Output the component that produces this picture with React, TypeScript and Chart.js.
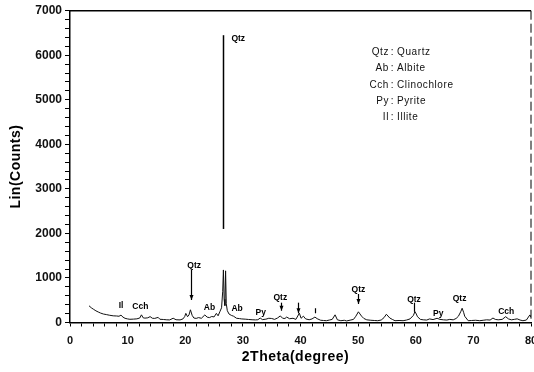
import React, { useEffect, useRef } from "react";
import { Chart, registerables } from "chart.js";

Chart.register(...registerables);

const angles = [
  3.3, 3.7, 4.1, 4.5, 4.9, 5.3, 5.8, 6.3, 6.9, 7.5, 8.1, 8.5, 8.85, 9.2, 9.55, 10.0, 10.4, 11.0, 11.6, 12.1,
  12.4, 12.7, 13.0, 13.5, 13.9, 14.3, 14.7, 15.3, 15.6, 16.2, 16.8, 17.3, 17.9, 18.4, 19.1, 19.6, 19.9, 20.1,
  20.4, 20.65, 20.9, 21.2, 21.5, 21.9, 22.3, 22.8, 23.4, 23.8, 24.2, 24.6, 25.0, 25.4, 25.7, 26.0, 26.3, 26.5,
  26.62, 26.75, 26.88, 27.0, 27.12, 27.3, 27.6, 28.0, 28.4, 28.9, 29.4, 29.8, 30.4, 31.0, 31.6, 32.2, 32.6,
  33.0, 33.4, 34.0, 34.5, 35.0, 35.5, 36.0, 36.5, 36.9, 37.3, 37.6, 38.1, 38.7, 39.2, 39.8, 40.1, 40.5, 40.9,
  41.5, 42.0, 42.5, 42.9, 43.5, 44.0, 44.5, 45.0, 45.5, 46.0, 46.4, 47.0, 47.6, 48.0, 48.6, 49.2, 49.6, 50.05,
  50.6, 51.0, 51.5, 52.2, 52.8, 53.4, 54.0, 54.5, 54.9, 55.5, 56.0, 56.4, 57.1, 57.8, 58.4, 59.0, 59.6, 59.85,
  60.1, 60.3, 60.8, 61.3, 61.9, 62.4, 63.0, 63.7, 64.2, 64.8, 65.4, 65.9, 66.5, 67.0, 67.4, 67.8, 68.05, 68.3,
  68.5, 69.1, 69.7, 70.4, 71.1, 71.7, 72.3, 72.9, 73.4, 73.8, 74.3, 75.0, 75.6, 76.1, 76.6, 77.1, 77.6, 78.1,
  78.6, 79.2, 79.8, 80.0,
];
const counts = [
  375, 330, 295, 262, 236, 212, 190, 178, 162, 150, 146, 140, 165, 120, 94, 80, 72, 76, 82, 100,
  172, 105, 98, 105, 132, 95, 92, 115, 72, 68, 60, 58, 96, 62, 58, 80, 132, 205,
  130, 170, 285, 160, 100, 92, 110, 95, 170, 120, 110, 135, 125, 205, 150, 240, 330, 700,
  1180, 520, 380, 1160, 420, 265, 190, 160, 140, 95, 88, 80, 75, 68, 62, 58, 62,
  100, 65, 75, 95, 90, 70, 100, 148, 95, 90, 122, 85, 95, 70, 210, 95, 142, 80,
  62, 80, 122, 85, 50, 45, 40, 55, 70, 172, 60, 40, 50, 35, 52, 70, 140, 240,
  142, 90, 60, 50, 45, 40, 55, 110, 185, 100, 65, 40, 45, 40, 55, 80, 160, 245,
  190, 130, 70, 60, 55, 80, 65, 95, 70, 60, 55, 70, 60, 90, 140, 240, 320, 230,
  140, 40, 45, 50, 40, 50, 60, 55, 100, 70, 60, 70, 130, 80, 60, 70, 82, 55,
  40, 55, 170, 120,
];

// axis tick labels
const xTickLabels = [0, 10, 20, 30, 40, 50, 60, 70, 80];
const yTickLabels = [0, 1000, 2000, 3000, 4000, 5000, 6000, 7000];

// phase labels on the pattern
const labelTexts = ["Qtz", "Il", "Cch", "Qtz", "Ab", "Ab", "Py", "Qtz", "Qtz", "Qtz", "Py", "Qtz", "Cch"];
const labelAngles = [29.2, 8.85, 12.2, 21.55, 24.2, 29.0, 33.1, 36.5, 50.05, 59.7, 63.9, 67.6, 75.7];
const labelCounts = [6380, 370, 360, 1275, 333, 310, 220, 557, 730, 520, 207, 527, 243];

// marker arrows
const arrowAngles = [26.62, 20.95, 36.6, 39.55, 42.55, 50.0, 59.75];
const arrowTops = [6450, 1180, 445, 445, 320, 640, 445];
const arrowBottoms = [2100, 505, 265, 207, 207, 415, 240];
const arrowHeads = [false, true, true, true, false, true, false];

// legend key
const keyCodes = ["Qtz", "Ab", "Cch", "Py", "Il"];
const keyNames = ["Quartz", "Albite", "Clinochlore", "Pyrite", "Illite"];

const FONT = '"Liberation Sans", Arial, sans-serif';

const overlay = {
  id: "overlay",
  afterDraw(chart: any) {
    const { ctx, chartArea: a, scales } = chart;
    const x = scales.x;
    const y = scales.y;
    ctx.save();
    ctx.strokeStyle = "#000";
    ctx.fillStyle = "#000";
    // top frame
    ctx.lineWidth = 1.5;
    ctx.beginPath();
    ctx.moveTo(a.left, a.top);
    ctx.lineTo(a.right, a.top);
    ctx.stroke();
    // right frame (dashed)
    ctx.lineWidth = 1;
    ctx.setLineDash([9, 4]);
    ctx.beginPath();
    ctx.moveTo(a.right, a.top);
    ctx.lineTo(a.right, a.bottom);
    ctx.stroke();
    ctx.setLineDash([]);

    // arrows
    arrowAngles.forEach((g, i) => {
      const px = Math.round(x.getPixelForValue(g)) + 0.5;
      const t = y.getPixelForValue(arrowTops[i]);
      const b = y.getPixelForValue(arrowBottoms[i]);
      ctx.lineWidth = i === 0 ? 1.5 : 1.2;
      ctx.beginPath();
      ctx.moveTo(px, t);
      ctx.lineTo(px, b);
      ctx.stroke();
      if (arrowHeads[i]) {
        ctx.beginPath();
        ctx.moveTo(px - 2, b - 5);
        ctx.lineTo(px, b);
        ctx.lineTo(px + 2, b - 5);
        ctx.closePath();
        ctx.fill();
      }
    });

    // labels
    ctx.font = `bold 8.5px ${FONT}`;
    ctx.textAlign = "center";
    ctx.textBaseline = "middle";
    labelTexts.forEach((s, i) => {
      ctx.fillText(s, x.getPixelForValue(labelAngles[i]), y.getPixelForValue(labelCounts[i]));
    });

    // key
    ctx.font = `10px ${FONT}`;
    (ctx as any).letterSpacing = "0.6px";
    ctx.fillStyle = "#111";
    const colonX = 392;
    keyCodes.forEach((c, i) => {
      const ly = 52 + i * 16.4;
      ctx.textAlign = "right";
      ctx.fillText(c, colonX - 3, ly);
      ctx.textAlign = "center";
      ctx.fillText(":", colonX + 0.5, ly);
      ctx.textAlign = "left";
      ctx.fillText(keyNames[i], colonX + 5, ly);
    });

    // axis titles
    ctx.fillStyle = "#000";
    ctx.font = `bold 14px ${FONT}`;
    (ctx as any).letterSpacing = "0.5px";
    ctx.textAlign = "center";
    ctx.textBaseline = "middle";
    ctx.fillText("2Theta(degree)", (a.left + a.right) / 2 - 5, 357);
    ctx.translate(16, (a.top + a.bottom) / 2);
    ctx.rotate(-Math.PI / 2);
    ctx.fillText("Lin(Counts)", 0, 0);
    ctx.restore();
  },
};

export default function App() {
  const ref = useRef<HTMLCanvasElement | null>(null);
  useEffect(() => {
    if (!ref.current) return;
    const points = angles.map((g, i) => ({ x: g, y: counts[i] }));
    const chart = new Chart(ref.current, {
      type: "line",
      data: {
        datasets: [
          {
            data: points,
            borderColor: "#111",
            borderWidth: 1,
            pointRadius: 0,
            tension: 0,
            fill: false,
          },
        ],
      },
      options: {
        responsive: false,
        animation: false,
        layout: { padding: { top: 10.7, right: 3, left: 0, bottom: 0 } },
        plugins: { legend: { display: false }, tooltip: { enabled: false } },
        scales: {
          x: {
            type: "linear",
            min: 0,
            max: 80,
            afterFit: (s: any) => {
              s.height = 49.5;
              s.paddingLeft = 0;
              s.paddingRight = 0;
            },
            ticks: {
              stepSize: 2,
              autoSkip: false,
              maxRotation: 0,
              padding: 8,
              color: "#111",
              font: { family: FONT, size: 11, weight: "bold" },
              callback: (v: any) => (xTickLabels.includes(Number(v)) ? String(v) : ""),
            },
            grid: { display: true, drawOnChartArea: false, drawTicks: true, tickLength: 4, color: "#000" },
            border: { display: true, color: "#000", width: 1.5 },
          },
          y: {
            type: "linear",
            min: 0,
            max: 7000,
            afterFit: (s: any) => {
              s.width = 70;
              s.paddingTop = 0;
              s.paddingBottom = 0;
            },
            ticks: {
              stepSize: 200,
              autoSkip: false,
              padding: 3,
              color: "#111",
              font: { family: FONT, size: 12, weight: "bold" },
              callback: (v: any) => (yTickLabels.includes(Number(v)) ? String(v) : ""),
            },
            grid: { display: true, drawOnChartArea: false, drawTicks: true, tickLength: 5, color: "#000" },
            border: { display: true, color: "#000", width: 1.5 },
          },
        },
      },
      plugins: [overlay],
    });
    return () => chart.destroy();
  }, []);
  return (
    <div style={{ position: "absolute", left: 0, top: 0, width: 534, height: 372, background: "#fff" }}>
      <canvas ref={ref} width={534} height={372} style={{ display: "block" }} />
    </div>
  );
}
